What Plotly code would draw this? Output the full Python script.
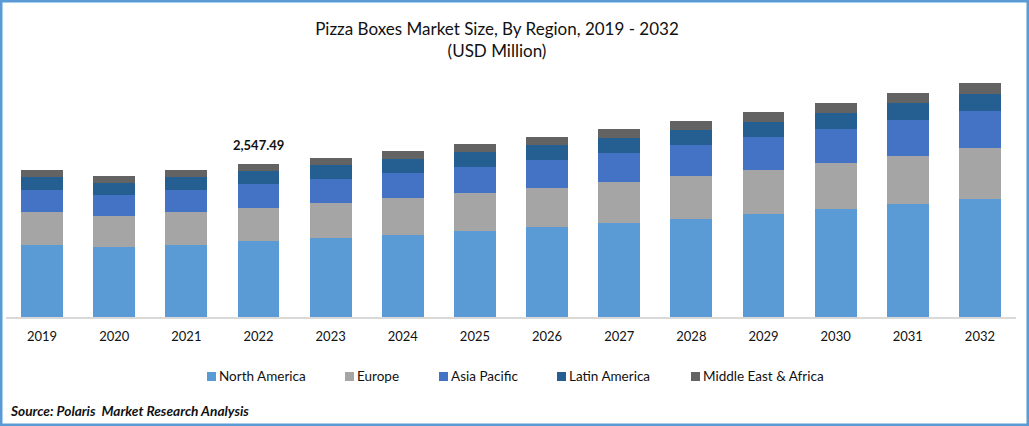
import plotly.graph_objects as go

years = ['2019', '2020', '2021', '2022', '2023', '2024', '2025', '2026', '2027', '2028', '2029', '2030', '2031', '2032']
northAmerica = [1199, 1166, 1199, 1265, 1315, 1365, 1432, 1499, 1565, 1632, 1715, 1798, 1881, 1965]
europe = [549, 516, 549, 549, 583, 616, 633, 649, 683, 716, 733, 766, 799, 849]
asiaPacific = [366, 350, 366, 400, 400, 416, 433, 466, 483, 516, 549, 566, 599, 616]
latinAmerica = [216, 200, 216, 216, 233, 233, 250, 250, 250, 250, 250, 266, 283, 283]
middleEast = [117, 117, 117, 117, 117, 133, 133, 133, 150, 150, 167, 167, 167, 183]

seriesList = [
    ('North America', northAmerica, '#5B9BD5'),
    ('Europe', europe, '#A5A5A5'),
    ('Asia Pacific', asiaPacific, '#4472C4'),
    ('Latin America', latinAmerica, '#255E91'),
    ('Middle East & Africa', middleEast, '#636363'),
]
# left edge of each legend swatch, in picture pixels
legendX = [207, 345, 439, 557, 691]

W, H = 1029, 426
L, R, T, B = 6, 13, 70, 109
plotW = W - L - R
plotH = H - T - B

# picture pixels to paper coords (paper is relative to the plot area)
def px_x(p):
    return (p - L) / plotW

def px_y(p):
    return (H - B - p) / plotH

fig = go.Figure()
for (name, vals, col), lx in zip(seriesList, legendX):
    fig.add_trace(go.Bar(x=years, y=vals, name=name, marker=dict(color=col, line_width=0), showlegend=False))
    # hand placed legend, plotly's own one can't get the swatch this close to the text
    fig.add_shape(type='rect', xref='paper', yref='paper', x0=px_x(lx), x1=px_x(lx + 9),
                  y0=px_y(381), y1=px_y(372), fillcolor=col, line_width=0)
    fig.add_annotation(xref='paper', yref='paper', x=px_x(lx + 10), y=px_y(376), xanchor='left', yanchor='middle',
                       showarrow=False, text=name, font=dict(family='Lato', size=13.5, color='#111111'))

# label only on 2022, sits above the stack. category axis wants the index here, not the string
fig.add_annotation(x=years.index('2022'), y=2547.49, text='<b>2,547.49</b>', showarrow=False, yshift=19,
                   font=dict(family='Lato', size=13, color='#111111'))

# outer blue frame
fig.add_shape(type='rect', xref='paper', yref='paper', x0=px_x(1), x1=px_x(W - 1), y0=px_y(H - 1), y1=px_y(1),
              line=dict(color='#5B9BD5', width=3), fillcolor='rgba(0,0,0,0)')

fig.add_annotation(xref='paper', yref='paper', x=px_x(8), y=px_y(410), xanchor='left', yanchor='middle',
                   showarrow=False, text='<b><i>Source: Polaris  Market Research Analysis</i></b>',
                   font=dict(family='Lato', size=13.7, color='#111111'))

fig.update_layout(
    width=W, height=H,
    margin=dict(l=L, r=R, t=T, b=B, autoexpand=False),
    barmode='stack',
    bargap=0.418,
    paper_bgcolor='white',
    plot_bgcolor='white',
    font=dict(family='Lato', size=13, color='#111111'),
    title=dict(text='Pizza Boxes Market Size, By Region, 2019 - 2032<br>(USD Million)',
               x=497 / W, xanchor='center', y=1 - 35 / H, yanchor='top',
               font=dict(family='Lato', size=17, color='#111111')),
)
fig.update_xaxes(type='category', range=[-0.5, 13.5], showline=True, linecolor='#D9D9D9', linewidth=1.5,
                 ticks='', ticklabelstandoff=7, tickfont=dict(size=13))
fig.update_yaxes(visible=False, range=[0, 4113], showgrid=False)

fig.write_html('out.html', config={'displayModeBar': False},
               post_script="document.body.style.margin='0';")
